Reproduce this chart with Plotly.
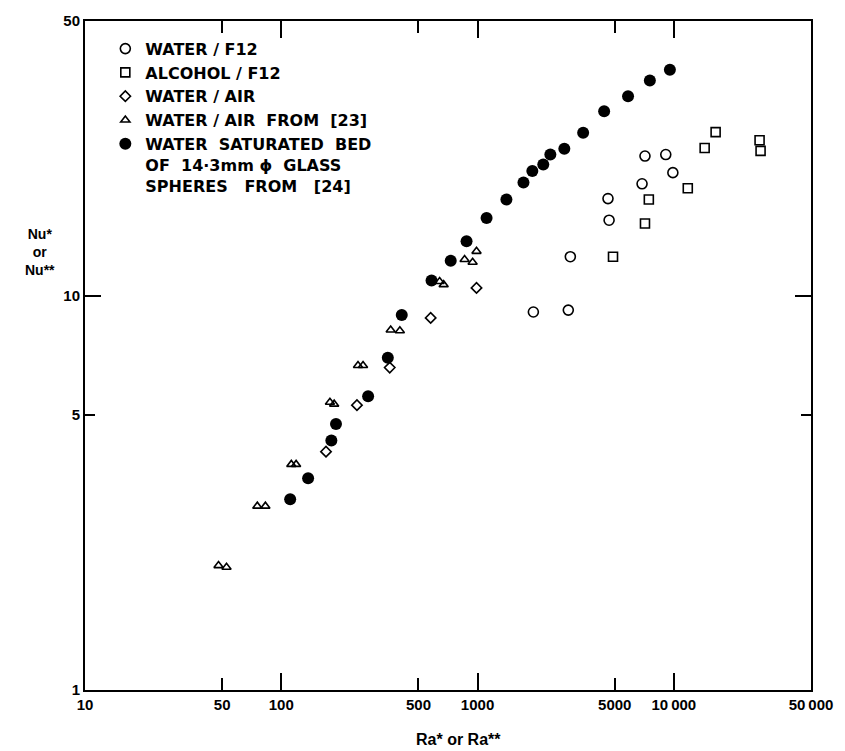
import math
import plotly.graph_objects as go

# ---- data ----
water_f12_ra = [1925, 2900, 2970, 4680, 4620, 6890, 7130, 9100, 9890]
water_f12_nu = [9.12, 9.22, 12.6, 15.6, 17.7, 19.3, 22.7, 22.9, 20.6]

alcohol_f12_ra = [4900, 7130, 7460, 11780, 14360, 16330, 27350, 27670]
alcohol_f12_nu = [12.6, 15.3, 17.6, 18.8, 23.8, 26.1, 24.9, 23.4]

water_air_ra = [169, 243, 357, 577, 988]
water_air_nu = [4.03, 5.29, 6.59, 8.81, 10.5]

water_air23_ra = [47.9, 52.6, 75.5, 83.0, 112.5, 119, 177, 186, 246, 261,
                  361, 402, 641, 672, 859, 944, 988]
water_air23_nu = [2.07, 2.05, 2.93, 2.93, 3.74, 3.74, 5.38, 5.32, 6.67, 6.67,
                  8.21, 8.17, 10.9, 10.7, 12.4, 12.2, 13.0]

bed24_ra = [111, 137, 180, 190, 277, 349, 411, 583, 730, 879, 1112, 1403,
            1714, 1902, 2162, 2349, 2768, 3452, 4416, 5845, 7550, 9550]
bed24_nu = [3.05, 3.45, 4.30, 4.74, 5.57, 6.98, 8.96, 10.97, 12.3, 13.8, 15.8,
            17.6, 19.45, 20.8, 21.6, 22.9, 23.7, 26.0, 29.5, 32.2, 35.3, 37.6]

x_tickvals = [10, 50, 100, 500, 1000, 5000, 10000, 50000]
x_ticktext = ["10", "50", "100", "500", "1000", "5000", "10\u2009000", "50\u2009000"]
x_major = [100, 1000, 10000]
y_tickvals = [1, 5, 10, 50]
y_ticktext = ["1", "5", "10", "50"]
y_major = [10]

NB = "\u00a0"
names = [
    "WATER" + NB + "/" + NB + "F12",
    "ALCOHOL" + NB + "/" + NB + "F12",
    "WATER" + NB + "/" + NB + "AIR",
    "WATER" + NB + "/" + NB + "AIR" + NB * 2 + "FROM" + NB * 2 + "[23]",
    "WATER" + NB * 2 + "SATURATED" + NB * 2 + "BED<br>OF" + NB * 2 + "14·3mm" + NB + "ϕ" + NB * 2
    + "GLASS<br>SPHERES" + NB * 3 + "FROM" + NB * 3 + "[24]",
]

FONT = "Liberation Sans, Arial, sans-serif"
LFONT = "DejaVu Sans, Liberation Sans, sans-serif"

fig = go.Figure()
fig.add_trace(go.Scatter(x=water_f12_ra, y=water_f12_nu, mode="markers", name=names[0],
                         marker=dict(symbol="circle-open", size=10, color="black",
                                     line=dict(width=1.6, color="black"))))
fig.add_trace(go.Scatter(x=alcohol_f12_ra, y=alcohol_f12_nu, mode="markers", name=names[1],
                         marker=dict(symbol="square-open", size=9, color="black",
                                     line=dict(width=1.6, color="black"))))
fig.add_trace(go.Scatter(x=water_air_ra, y=water_air_nu, mode="markers", name=names[2],
                         marker=dict(symbol="diamond-open", size=8, color="black",
                                     line=dict(width=1.6, color="black"))))
fig.add_trace(go.Scatter(x=water_air23_ra, y=water_air23_nu, mode="markers", name=names[3],
                         marker=dict(symbol="triangle-up-open", size=8, color="black",
                                     line=dict(width=1.6, color="black"))))
fig.add_trace(go.Scatter(x=bed24_ra, y=bed24_nu, mode="markers", name=names[4],
                         marker=dict(symbol="circle", size=12, color="black",
                                     line=dict(width=0, color="black"))))

xr = [1, math.log10(50000)]
yr = [0, math.log10(50)]
tickfont = dict(family=FONT, size=15, color="black", weight="bold")

fig.update_layout(
    width=845, height=751,
    margin=dict(l=85, r=30, t=14, b=61),
    paper_bgcolor="white", plot_bgcolor="white",
    font=dict(family=FONT, color="black"),
    showlegend=True,
    legend=dict(x=0.028, y=0.984, xanchor="left", yanchor="top",
                bgcolor="rgba(0,0,0,0)", borderwidth=0, valign="top",
                font=dict(family=LFONT, size=16, color="black", weight="bold"),
                tracegroupgap=0, itemwidth=30),
    xaxis=dict(type="log", range=xr, showgrid=False, zeroline=False,
               showline=True, linecolor="black", linewidth=2, mirror="ticks",
               ticks="inside", ticklen=12, tickwidth=2, tickcolor="black",
               tickmode="array", tickvals=x_tickvals, ticktext=x_ticktext,
               tickfont=tickfont,
               minor=dict(tickmode="array", tickvals=x_major, ticks="inside",
                          ticklen=17, tickwidth=2, tickcolor="black", showgrid=False)),
    yaxis=dict(type="log", range=yr, showgrid=False, zeroline=False,
               showline=True, linecolor="black", linewidth=2, mirror="ticks",
               ticks="inside", ticklen=10, tickwidth=2, tickcolor="black",
               tickmode="array", tickvals=y_tickvals, ticktext=y_ticktext,
               tickfont=tickfont,
               minor=dict(tickmode="array", tickvals=y_major, ticks="inside",
                          ticklen=16, tickwidth=2, tickcolor="black", showgrid=False)),
    annotations=[
        dict(text="Nu*<br>or<br>Nu**", xref="paper", yref="paper",
             x=(40 - 85) / 730, y=(690 - 247) / 676, xanchor="center", yanchor="middle",
             showarrow=False, align="center",
             font=dict(family=FONT, size=14, color="black", weight="bold")),
        dict(text="Ra* or Ra**", xref="paper", yref="paper",
             x=0.514, y=-0.074, xanchor="center", yanchor="middle", showarrow=False,
             font=dict(family=FONT, size=16, color="black", weight="bold")),
    ],
)

fig.write_html("out.html")
